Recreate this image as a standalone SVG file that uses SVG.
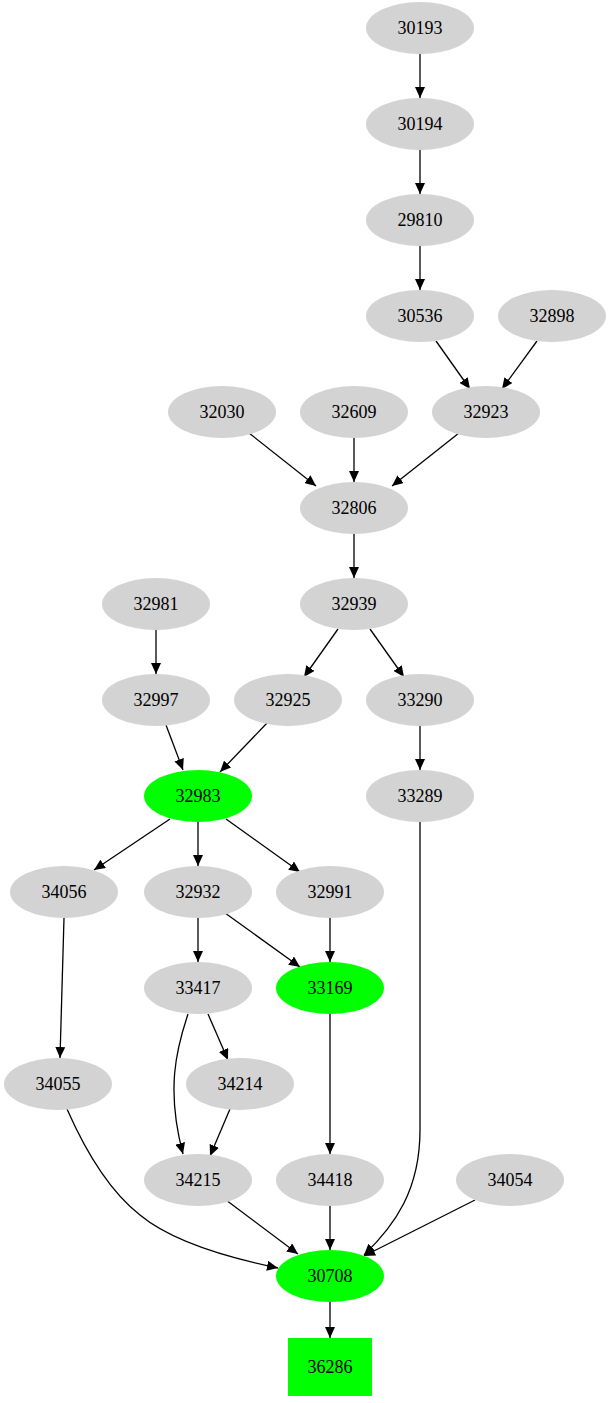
<svg xmlns="http://www.w3.org/2000/svg" width="611" height="1403" viewBox="0 0 611 1403">
<style>
.n ellipse{fill:#d3d3d3}
.g ellipse,.g rect{fill:#00ff00}
text{font-family:"Liberation Serif",serif;font-size:18px;text-anchor:middle;dominant-baseline:central;fill:#000}
#edges path{fill:none;stroke:#000;stroke-width:1.3;marker-end:url(#a)}
</style>
<defs><marker id="a" markerUnits="userSpaceOnUse" markerWidth="12" markerHeight="10" refX="11" refY="5" orient="auto"><path d="M0,0L11,5L0,10z" fill="#000"/></marker></defs>
<rect width="611" height="1403" fill="#fff"/>
<g id="edges">
<path d="M420,54L420,98"/><path d="M420,150L420,194"/><path d="M420,246L420,290"/>
<path d="M436,341L470,389"/><path d="M537,341L502,389"/>
<path d="M249,433L316,486"/><path d="M354,438L354,482"/><path d="M459,433L392,486"/>
<path d="M354,534L354,578"/><path d="M338,629L304,677"/><path d="M370,629L404,677"/>
<path d="M156,630L156,674"/><path d="M166,725L183,770"/><path d="M268,722L220,772"/>
<path d="M170,819L94,870"/><path d="M198,822L198,866"/><path d="M226,819L300,872"/>
<path d="M420,726L420,770"/><path d="M198,918L198,962"/><path d="M225,913L300,967"/>
<path d="M330,918L330,962"/><path d="M64,918L60,1058"/><path d="M208,1014L228,1060"/>
<path d="M188,1014C176,1050 166,1090 183,1154"/><path d="M230,1109L210,1156"/>
<path d="M330,1014L330,1154"/>
<path d="M67,1109C85,1150 108,1190 140,1215C170,1240 220,1256 278,1268"/>
<path d="M226,1200L298,1254"/><path d="M330,1206L330,1250"/><path d="M475,1200L364,1256"/>
<path d="M420,822L420,1130C420,1190 395,1225 364,1255"/>
<path d="M330,1302L330,1338"/>
</g>
<g id="n30193" class="n"><ellipse cx="420" cy="28" rx="54" ry="26"/><text x="420" y="28">30193</text></g>
<g id="n30194" class="n"><ellipse cx="420" cy="124" rx="54" ry="26"/><text x="420" y="124">30194</text></g>
<g id="n29810" class="n"><ellipse cx="420" cy="220" rx="54" ry="26"/><text x="420" y="220">29810</text></g>
<g id="n30536" class="n"><ellipse cx="420" cy="316" rx="54" ry="26"/><text x="420" y="316">30536</text></g>
<g id="n32898" class="n"><ellipse cx="552" cy="316" rx="54" ry="26"/><text x="552" y="316">32898</text></g>
<g id="n32030" class="n"><ellipse cx="222" cy="412" rx="54" ry="26"/><text x="222" y="412">32030</text></g>
<g id="n32609" class="n"><ellipse cx="354" cy="412" rx="54" ry="26"/><text x="354" y="412">32609</text></g>
<g id="n32923" class="n"><ellipse cx="486" cy="412" rx="54" ry="26"/><text x="486" y="412">32923</text></g>
<g id="n32806" class="n"><ellipse cx="354" cy="508" rx="54" ry="26"/><text x="354" y="508">32806</text></g>
<g id="n32981" class="n"><ellipse cx="156" cy="604" rx="54" ry="26"/><text x="156" y="604">32981</text></g>
<g id="n32939" class="n"><ellipse cx="354" cy="604" rx="54" ry="26"/><text x="354" y="604">32939</text></g>
<g id="n32997" class="n"><ellipse cx="156" cy="700" rx="54" ry="26"/><text x="156" y="700">32997</text></g>
<g id="n32925" class="n"><ellipse cx="288" cy="700" rx="54" ry="26"/><text x="288" y="700">32925</text></g>
<g id="n33290" class="n"><ellipse cx="420" cy="700" rx="54" ry="26"/><text x="420" y="700">33290</text></g>
<g id="n32983" class="g"><ellipse cx="198" cy="796" rx="54" ry="26"/><text x="198" y="796">32983</text></g>
<g id="n33289" class="n"><ellipse cx="420" cy="796" rx="54" ry="26"/><text x="420" y="796">33289</text></g>
<g id="n34056" class="n"><ellipse cx="64" cy="892" rx="54" ry="26"/><text x="64" y="892">34056</text></g>
<g id="n32932" class="n"><ellipse cx="198" cy="892" rx="54" ry="26"/><text x="198" y="892">32932</text></g>
<g id="n32991" class="n"><ellipse cx="330" cy="892" rx="54" ry="26"/><text x="330" y="892">32991</text></g>
<g id="n33417" class="n"><ellipse cx="198" cy="988" rx="54" ry="26"/><text x="198" y="988">33417</text></g>
<g id="n33169" class="g"><ellipse cx="330" cy="988" rx="54" ry="26"/><text x="330" y="988">33169</text></g>
<g id="n34055" class="n"><ellipse cx="58" cy="1084" rx="54" ry="26"/><text x="58" y="1084">34055</text></g>
<g id="n34214" class="n"><ellipse cx="240" cy="1084" rx="54" ry="26"/><text x="240" y="1084">34214</text></g>
<g id="n34215" class="n"><ellipse cx="198" cy="1180" rx="54" ry="26"/><text x="198" y="1180">34215</text></g>
<g id="n34418" class="n"><ellipse cx="330" cy="1180" rx="54" ry="26"/><text x="330" y="1180">34418</text></g>
<g id="n34054" class="n"><ellipse cx="510" cy="1180" rx="54" ry="26"/><text x="510" y="1180">34054</text></g>
<g id="n30708" class="g"><ellipse cx="330" cy="1276" rx="54" ry="26"/><text x="330" y="1276">30708</text></g>
<g id="n36286" class="g"><rect x="288" y="1338" width="84" height="58"/><text x="330" y="1367">36286</text></g>
</svg>
